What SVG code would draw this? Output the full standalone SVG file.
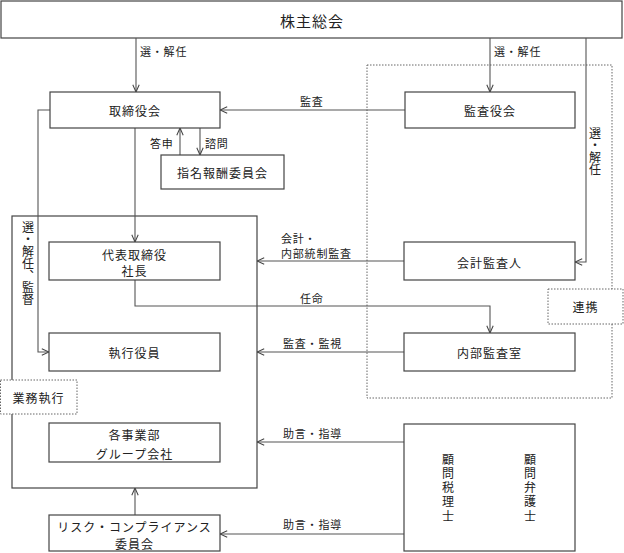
<svg xmlns="http://www.w3.org/2000/svg" width="624" height="553" viewBox="0 0 624 553">
<style>
  .box{fill:#fff;stroke:#444;stroke-width:1.2}
  .dot{fill:none;stroke:#666;stroke-width:1;stroke-dasharray:1.5 1.5}
  .dotw{fill:#fff;stroke:#666;stroke-width:1;stroke-dasharray:1.5 1.5}
  .t{font-family:"Noto Sans CJK JP","Noto Sans",sans-serif;font-size:12px;fill:#222;text-anchor:middle;dominant-baseline:central;letter-spacing:1px}
  .big{font-size:15px}
  .lb{font-family:"Noto Sans CJK JP","Noto Sans",sans-serif;font-size:11px;fill:#222;letter-spacing:0.8px;dominant-baseline:central}
  .v{font-family:"Noto Sans CJK JP","Noto Sans",sans-serif;fill:#222;writing-mode:vertical-rl}
  .c{fill:none;stroke:#555;stroke-width:1.1}
</style>
<defs>
  <marker id="ar" viewBox="0 0 10 10" refX="10" refY="5" markerWidth="8" markerHeight="8" markerUnits="userSpaceOnUse" orient="auto">
    <path d="M1,1 L10,5 L1,9" fill="none" stroke="#444" stroke-width="1.3"/>
  </marker>
</defs>

<rect class="dot" x="367" y="65" width="245" height="333"/>

<g id="shareholders">
  <rect class="box" x="1" y="1" width="621" height="37"/>
  <text class="t big" x="312" y="20">株主総会</text>
</g>

<g id="exec-area">
  <rect class="box" x="12" y="216" width="245" height="272"/>
</g>

<g id="connectors">
  <path class="c" d="M136,38 V92" marker-end="url(#ar)"/>
  <path class="c" d="M490,38 V92" marker-end="url(#ar)"/>
  <path class="c" d="M586,38 V262 H575" marker-end="url(#ar)"/>
  <path class="c" d="M405,110 H220" marker-end="url(#ar)"/>
  <path class="c" d="M180,155 V128" marker-end="url(#ar)"/>
  <path class="c" d="M200,128 V155" marker-end="url(#ar)"/>
  <path class="c" d="M135,128 V242" marker-end="url(#ar)"/>
  <path class="c" d="M50,110 H38 V352 H49" marker-end="url(#ar)"/>
  <path class="c" d="M404,261 H257" marker-end="url(#ar)"/>
  <path class="c" d="M135,280 V306 H490 V333" marker-end="url(#ar)"/>
  <path class="c" d="M404,352 H257" marker-end="url(#ar)"/>
  <path class="c" d="M404,442 H257" marker-end="url(#ar)"/>
  <path class="c" d="M135,515 V488" marker-end="url(#ar)"/>
  <path class="c" d="M404,534 H220" marker-end="url(#ar)"/>

  <text class="lb" x="140" y="51">選・解任</text>
  <text class="lb" x="494" y="51">選・解任</text>
  <text class="lb" x="300" y="101">監査</text>
  <text class="lb" x="150" y="143">答申</text>
  <text class="lb" x="205" y="143">諮問</text>
  <text class="lb" x="281" y="238">会計・</text>
  <text class="lb" x="281" y="253">内部統制監査</text>
  <text class="lb" x="300" y="298">任命</text>
  <text class="lb" x="283" y="343">監査・監視</text>
  <text class="lb" x="283" y="433">助言・指導</text>
  <text class="lb" x="283" y="524">助言・指導</text>
  <text class="v" x="28" y="221" font-size="12">選・解任、監督</text>
  <text class="v" x="595" y="127" font-size="12">選・解任</text>
</g>

<g id="board">
  <rect class="box" x="50" y="92" width="170" height="36"/>
  <text class="t" x="135" y="110">取締役会</text>
</g>
<g id="auditors-board">
  <rect class="box" x="405" y="92" width="170" height="36"/>
  <text class="t" x="490" y="110">監査役会</text>
</g>
<g id="nomination-committee">
  <rect class="box" x="161" y="155" width="123" height="34"/>
  <text class="t" x="222.5" y="172">指名報酬委員会</text>
</g>
<g id="president">
  <rect class="box" x="49" y="242" width="171" height="38"/>
  <text class="t" x="134.5" y="254">代表取締役</text>
  <text class="t" x="134.5" y="270">社長</text>
</g>
<g id="accounting-auditor">
  <rect class="box" x="404" y="242" width="171" height="38"/>
  <text class="t" x="489.5" y="262">会計監査人</text>
</g>
<g id="officers">
  <rect class="box" x="49" y="333" width="171" height="38"/>
  <text class="t" x="134.5" y="352">執行役員</text>
</g>
<g id="internal-audit">
  <rect class="box" x="404" y="333" width="171" height="38"/>
  <text class="t" x="489.5" y="352">内部監査室</text>
</g>
<g id="cooperation">
  <rect class="dotw" x="548" y="289" width="75" height="35"/>
  <text class="t" x="585.5" y="306">連携</text>
</g>
<g id="business-exec">
  <rect class="dotw" x="0.5" y="380" width="76.5" height="34"/>
  <text class="t" x="38.5" y="397">業務執行</text>
</g>
<g id="divisions">
  <rect class="box" x="49" y="423" width="171" height="39"/>
  <text class="t" x="134.5" y="434">各事業部</text>
  <text class="t" x="134.5" y="453">グループ会社</text>
</g>
<g id="risk-committee">
  <rect class="box" x="49" y="515" width="171" height="36"/>
  <text class="t" x="134.5" y="526">リスク・コンプライアンス</text>
  <text class="t" x="134.5" y="543">委員会</text>
</g>
<g id="advisors">
  <rect class="box" x="404" y="424" width="171" height="127"/>
  <text class="v" x="448" y="453" font-size="12" letter-spacing="2.3">顧問税理士</text>
  <text class="v" x="530" y="453" font-size="12" letter-spacing="2.3">顧問弁護士</text>
</g>
</svg>
